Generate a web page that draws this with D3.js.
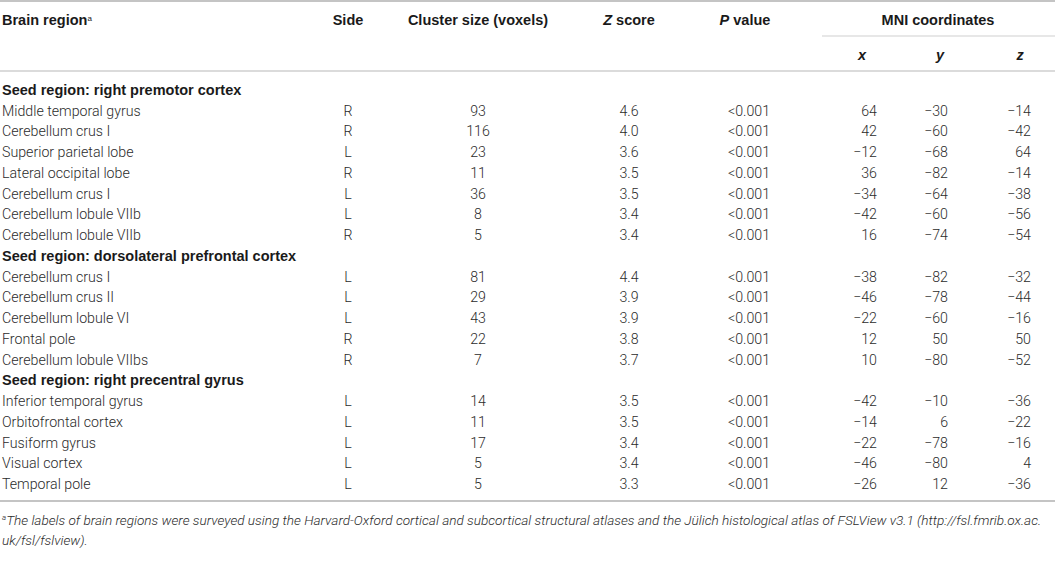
<!DOCTYPE html>
<html>
<head>
<meta charset="utf-8">
<script src="https://cdn.jsdelivr.net/npm/d3@7"></script>
<style>
  body { margin: 0; background: #fff; }
  svg { display: block; }
  .body { font-family: Roboto, "Liberation Sans", sans-serif; font-weight: 300; font-size: 14.2px; fill: #2b2b2b; }
  .head { font-family: "Liberation Sans", Arial, sans-serif; font-weight: bold; font-size: 14.5px; fill: #1a1a1a; }
  .note { font-family: Roboto, "Liberation Sans", sans-serif; font-weight: 300; font-style: italic; font-size: 13.6px; fill: #2b2b2b; }
</style>
</head>
<body>
<svg></svg>
<script>
// table values
var seeds = ["Seed region: right premotor cortex",
             "Seed region: dorsolateral prefrontal cortex",
             "Seed region: right precentral gyrus"];
var seedOf = [0, 0, 0, 0, 0, 0, 0, 1, 1, 1, 1, 1, 2, 2, 2, 2, 2];
var regions = ["Middle temporal gyrus", "Cerebellum crus I", "Superior parietal lobe", "Lateral occipital lobe",
               "Cerebellum crus I", "Cerebellum lobule VIIb", "Cerebellum lobule VIIb",
               "Cerebellum crus I", "Cerebellum crus II", "Cerebellum lobule VI", "Frontal pole", "Cerebellum lobule VIIbs",
               "Inferior temporal gyrus", "Orbitofrontal cortex", "Fusiform gyrus", "Visual cortex", "Temporal pole"];
var sides = ["R", "R", "L", "R", "L", "L", "R", "L", "L", "L", "R", "R", "L", "L", "L", "L", "L"];
var clusterSize = [93, 116, 23, 11, 36, 8, 5, 81, 29, 43, 22, 7, 14, 11, 17, 5, 5];
var zScore = [4.6, 4.0, 3.6, 3.5, 3.5, 3.4, 3.4, 4.4, 3.9, 3.9, 3.8, 3.7, 3.5, 3.5, 3.4, 3.4, 3.3];
var pValue = ["<0.001", "<0.001", "<0.001", "<0.001", "<0.001", "<0.001", "<0.001", "<0.001", "<0.001",
              "<0.001", "<0.001", "<0.001", "<0.001", "<0.001", "<0.001", "<0.001", "<0.001"];
var mniX = [64, 42, -12, 36, -34, -42, 16, -38, -46, -22, 12, 10, -42, -14, -22, -46, -26];
var mniY = [-30, -60, -68, -82, -64, -60, -74, -82, -78, -60, 50, -80, -10, 6, -78, -80, 12];
var mniZ = [-14, -42, 64, -14, -38, -56, -54, -32, -44, -16, 50, -52, -36, -22, -16, 4, -36];
var footnote = ["The labels of brain regions were surveyed using the Harvard-Oxford cortical and subcortical structural atlases and the Jülich histological atlas of FSLView v3.1 (http://fsl.fmrib.ox.ac.",
                "uk/fsl/fslview)."];

var width = 1055, height = 563;
var svg = d3.select("svg").attr("width", width).attr("height", height);

// build the row list: seed heading, then its regions
var rows = [];
regions.forEach(function(r, i) {
  if (i == 0 || seedOf[i] != seedOf[i - 1]) rows.push({ seed: seeds[seedOf[i]] });
  rows.push({ i: i });
});

var y = d3.scalePoint().domain(d3.range(rows.length)).range([90, 484]);

// column anchors
var colX = d3.scaleOrdinal()
  .domain(["region", "side", "cluster", "z", "p", "mx", "my", "mz", "mni"])
  .range([2, 348, 478, 629, 749, 877, 948, 1031, 938]);

var fmtInt = d3.format("d"), fmtZ = d3.format(".1f");

// rules
svg.append("line").attr("x1", 0).attr("x2", width).attr("y1", 1).attr("y2", 1)
  .attr("stroke", "#c4c4c4").attr("stroke-width", 2);
svg.append("line").attr("x1", 822).attr("x2", width).attr("y1", 36).attr("y2", 36)
  .attr("stroke", "#cfcfcf").attr("stroke-width", 1.2);
svg.append("line").attr("x1", 0).attr("x2", width).attr("y1", 71).attr("y2", 71)
  .attr("stroke", "#cfcfcf").attr("stroke-width", 1.5);
svg.append("line").attr("x1", 0).attr("x2", width).attr("y1", 501).attr("y2", 501)
  .attr("stroke", "#c4c4c4").attr("stroke-width", 2);

// header
var hy = 20;
var h = svg.append("g").attr("class", "head");
var br = h.append("text").attr("x", colX("region")).attr("y", hy).attr("dy", "0.35em").text("Brain region");
br.append("tspan").attr("font-size", "8px").attr("font-weight", "normal").attr("dy", "-0.5em").text("a");
h.append("text").attr("x", colX("side")).attr("y", hy).attr("dy", "0.35em").attr("text-anchor", "middle").text("Side");
h.append("text").attr("x", colX("cluster")).attr("y", hy).attr("dy", "0.35em").attr("text-anchor", "middle").text("Cluster size (voxels)");
var zt = h.append("text").attr("x", colX("z")).attr("y", hy).attr("dy", "0.35em").attr("text-anchor", "middle");
zt.append("tspan").attr("font-style", "italic").text("Z");
zt.append("tspan").text(" score");
var pt = h.append("text").attr("x", 745).attr("y", hy).attr("dy", "0.35em").attr("text-anchor", "middle");
pt.append("tspan").attr("font-style", "italic").text("P");
pt.append("tspan").text(" value");
h.append("text").attr("x", colX("mni")).attr("y", hy).attr("dy", "0.35em").attr("text-anchor", "middle").text("MNI coordinates");
[["x", 862], ["y", 940], ["z", 1020]].forEach(function(d) {
  h.append("text").attr("x", d[1]).attr("y", 55).attr("dy", "0.35em").attr("text-anchor", "middle")
    .attr("font-style", "italic").text(d[0]);
});

// body rows
var g = svg.append("g");
var row = g.selectAll("g.row").data(rows).enter().append("g")
  .attr("class", "row")
  .attr("transform", function(d, k) { return "translate(0," + y(k) + ")"; });

row.filter(function(d) { return d.seed; }).append("text")
  .attr("class", "head").attr("x", colX("region")).attr("dy", "0.35em")
  .text(function(d) { return d.seed; });

var data = row.filter(function(d) { return !d.seed; });
function cell(key, anchor, fn) {
  data.append("text").attr("class", "body")
    .attr("x", colX(key)).attr("dy", "0.35em").attr("text-anchor", anchor)
    .text(function(d) { return fn(d.i); });
}
cell("region", "start", function(i) { return regions[i]; });
cell("side", "middle", function(i) { return sides[i]; });
cell("cluster", "middle", function(i) { return fmtInt(clusterSize[i]); });
cell("z", "middle", function(i) { return fmtZ(zScore[i]); });
cell("p", "middle", function(i) { return pValue[i]; });
cell("mx", "end", function(i) { return fmtInt(mniX[i]); });
cell("my", "end", function(i) { return fmtInt(mniY[i]); });
cell("mz", "end", function(i) { return fmtInt(mniZ[i]); });

// footnote
var fn = svg.append("g").attr("class", "note");
var f1 = fn.append("text").attr("x", 2).attr("y", 525);
f1.append("tspan").attr("font-size", "8px").attr("dy", "-5").text("a");
f1.append("tspan").attr("dy", "5").text(footnote[0]);
fn.append("text").attr("x", 2).attr("y", 545).text(footnote[1]);
</script>
</body>
</html>
